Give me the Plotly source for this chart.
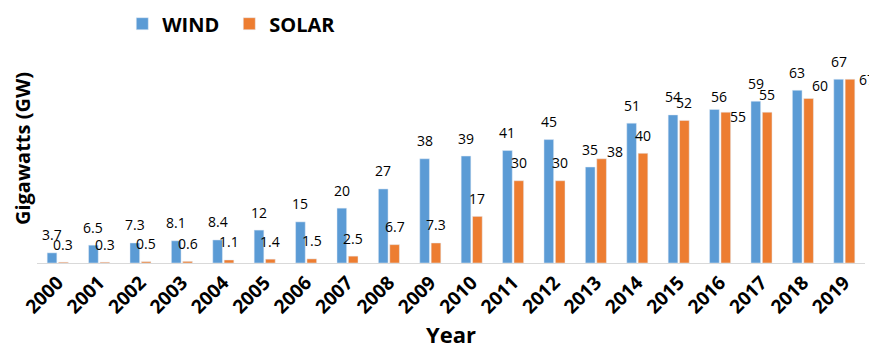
import plotly.graph_objects as go

years = [str(y) for y in range(2000, 2020)]
wind = [3.7, 6.5, 7.3, 8.1, 8.4, 12, 15, 20, 27, 38, 39, 41, 45, 35, 51, 54, 56, 59, 63, 67]
solar = [0.3, 0.3, 0.5, 0.6, 1.1, 1.4, 1.5, 2.5, 6.7, 7.3, 17, 30, 30, 38, 40, 52, 55, 55, 60, 67]

# label nudges (pixels) for a few labels placed by hand in the original
WIND_NUDGE = {"2016": (5, -5)}
SOLAR_NUDGE = {"2013": (13, -11), "2016": (12, -22), "2018": (11, -5), "2019": (17, -18)}

FONT = "Open Sans"
W, H = 869, 349
ML, MR, MT, MB = 37, 4, 30, 86
BARGAP, GROUPGAP = 0.45, 0.15
YMAX = 83.5

plot_w = W - ML - MR
cat_w = plot_w / len(years)
slot = cat_w * (1 - BARGAP) / 2
off = slot / 2

fig = go.Figure()
fig.add_trace(go.Bar(name="WIND", x=years, y=wind, marker_color="#5B9BD5"))
fig.add_trace(go.Bar(name="SOLAR", x=years, y=solar, marker_color="#ED7D31"))

annotations = []
for series, sign, nudge in ((wind, -1, WIND_NUDGE), (solar, 1, SOLAR_NUDGE)):
    for i, (yr, v) in enumerate(zip(years, series)):
        dx, dy = nudge.get(yr, (0, 0))
        annotations.append(dict(
            x=i, y=v, xref="x", yref="y", text=f"{v:g}", showarrow=False,
            xanchor="center", yanchor="middle",
            xshift=sign * off + dx, yshift=18 + dy,
            font=dict(size=14, family=FONT, color="#000000")))

fig.update_layout(
    width=W, height=H,
    margin=dict(l=ML, r=MR, t=MT, b=MB),
    paper_bgcolor="white", plot_bgcolor="white",
    barmode="group", bargap=BARGAP, bargroupgap=GROUPGAP,
    font=dict(family=FONT, color="#000000"),
    annotations=annotations,
    legend=dict(orientation="h", x=0.103, y=1.045, xanchor="left", yanchor="middle",
                entrywidth=62, entrywidthmode="pixels",
                font=dict(size=20, family=FONT, color="#000000", weight="bold"),
                bgcolor="rgba(0,0,0,0)", itemclick=False),
    xaxis=dict(type="category", tickangle=-45, range=[-0.5, len(years) - 0.5],
               tickfont=dict(size=19, family=FONT, weight="bold", color="#000000"),
               showline=True, linecolor="#D9D9D9", linewidth=1, ticks="",
               title=dict(text="Year", font=dict(size=22, weight="bold", family=FONT), standoff=0)),
    yaxis=dict(range=[0, YMAX], showgrid=False, showticklabels=False, zeroline=False,
               title=dict(text="Gigawatts (GW)", font=dict(size=20, weight="bold", family=FONT), standoff=0)),
)

fig.write_html("out.html")
